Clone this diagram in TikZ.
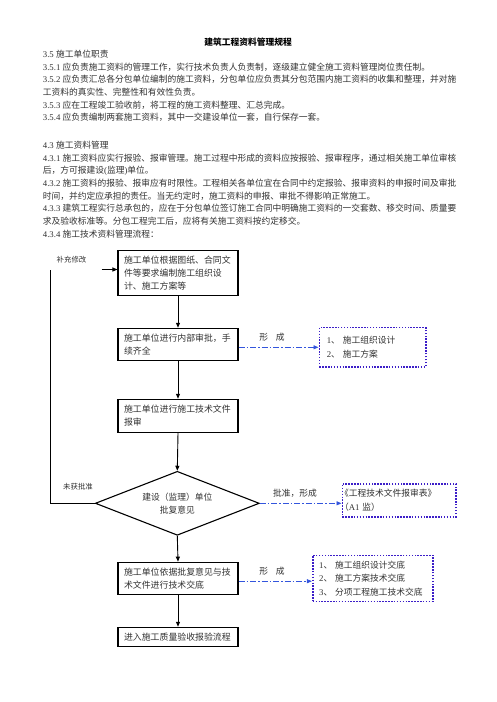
\documentclass[tikz,border=0pt]{standalone}
\usepackage{fontspec}
\setmainfont{Noto Sans CJK SC}
\newfontfamily\lat{Liberation Serif}
\usetikzlibrary{arrows.meta,shapes.geometric}
\definecolor{lineblue}{RGB}{51,85,221}
\definecolor{dotviolet}{RGB}{60,30,200}
\definecolor{ink}{RGB}{50,50,50}
\newcommand\fs{\fontsize{8.75pt}{12.7pt}\selectfont}
\newcommand\fbx{\fontsize{8.9pt}{12.8pt}\selectfont}
\newcommand\fdb{\fontsize{8.75pt}{13.5pt}\selectfont}
\newcommand\fsm{\fontsize{7.4pt}{9pt}\selectfont}
\begin{document}
\begin{tikzpicture}[x=1pt,y=-1pt,
  txt/.style={anchor=base west, inner sep=0pt, font=\fs, text=ink},
  ttl/.style={anchor=base, inner sep=0pt, font=\fs\bfseries, text=black},
  lbl/.style={inner sep=0pt, font=\fs, text=ink},
  slbl/.style={inner sep=0pt, font=\fsm, text=ink},
  box/.style={draw=black, line width=1.1pt, rectangle, minimum width=120pt,
    inner xsep=6pt, inner ysep=0pt, text width=108pt, align=left, font=\fbx, text=ink},
  diam/.style={draw=black, line width=1.1pt, shape=diamond, aspect=2.56,
    minimum width=164pt, minimum height=64pt, inner sep=0pt, align=center, font=\fs, text=ink},
  dbx/.style={draw=dotviolet, line width=1.6pt, dash pattern=on 1.5pt off 1.4pt,
    rectangle, align=left, font=\fdb, inner ysep=0pt, text=ink},
  arr/.style={draw=black, line width=0.9pt, -{Triangle[length=5pt,width=4pt]}},
  plain/.style={draw=black, line width=0.9pt},
  barr/.style={draw=lineblue, line width=0.9pt, dash pattern=on 6pt off 2pt on 1.5pt off 2pt,
    -{Triangle[length=5pt,width=4pt]}}
]
\useasboundingbox (0,0) rectangle (496,702);
\fill[white] (0,0) rectangle (496,702);

% ---- text ----
\node[ttl] (title) at (248,45.6) {建筑工程资料管理规程};
\node[txt] (t1) at (42.7,57.6) {{\lat 3.5 }施工单位职责};
\node[txt] (t2) at (42.7,70.3) {{\lat 3.5.1 }应负责施工资料的管理工作，实行技术负责人负责制，逐级建立健全施工资料管理岗位责任制。};
\node[txt] (t3) at (42.7,82.9) {{\lat 3.5.2 }应负责汇总各分包单位编制的施工资料，分包单位应负责其分包范围内施工资料的收集和整理，并对施};
\node[txt] (t4) at (42.7,95.5) {工资料的真实性、完整性和有效性负责。};
\node[txt] (t5) at (42.7,108.1) {{\lat 3.5.3 }应在工程竣工验收前，将工程的施工资料整理、汇总完成。};
\node[txt] (t6) at (42.7,120.7) {{\lat 3.5.4 }应负责编制两套施工资料，其中一交建设单位一套，自行保存一套。};
\node[txt] (t7) at (42.7,148.3) {{\lat 4.3 }施工资料管理};
\node[txt] (t8) at (42.7,161.0) {{\lat 4.3.1 }施工资料应实行报验、报审管理。施工过程中形成的资料应按报验、报审程序，通过相关施工单位审核};
\node[txt] (t9) at (42.7,173.7) {后，方可报建设{\lat (}监理{\lat )}单位。};
\node[txt] (t10) at (42.7,186.4) {{\lat 4.3.2 }施工资料的报验、报审应有时限性。工程相关各单位宜在合同中约定报验、报审资料的申报时间及审批};
\node[txt] (t11) at (42.7,199.1) {时间，并约定应承担的责任。当无约定时，施工资料的申报、审批不得影响正常施工。};
\node[txt] (t12) at (42.7,211.8) {{\lat 4.3.3 }建筑工程实行总承包的，应在于分包单位签订施工合同中明确施工资料的一交套数、移交时间、质量要};
\node[txt] (t13) at (42.7,224.5) {求及验收标准等。分包工程完工后，应将有关施工资料按约定移交。};
\node[txt] (t14) at (42.7,237.2) {{\lat 4.3.4 }施工技术资料管理流程：};

% ---- flow boxes ----
\node[box, minimum height=45pt] (b1) at (178,272.8) {施工单位根据图纸、合同文\\件等要求编制施工组织设\\计、施工方案等};
\node[box, minimum height=32pt] (b2) at (178,344.3) {施工单位进行内部审批，手\\续齐全};
\node[box, minimum height=33pt] (b3) at (178,415.8) {施工单位进行施工技术文件\\报审};
\node[diam] (dm) at (177.3,503.3) {建设（监理）单位\\批复意见};
\node[box, minimum height=32pt] (b4) at (178,578.2) {施工单位依据批复意见与技\\术文件进行技术交底};
\node[box, minimum height=19pt] (b5) at (178,636.8) {进入施工质量验收报验流程};

% ---- dotted boxes ----
\node[dbx, minimum width=106.4pt, minimum height=39.3pt, inner xsep=7.5pt, text width=91.4pt] (d1) at (372.5,347.3)
  {{\lat 1}、 施工组织设计\\{\lat 2}、 施工方案};
\node[dbx, minimum width=113.4pt, minimum height=33pt, inner xsep=-2.3pt, text width=118pt] (d2) at (399,500.2)
  {《工程技术文件报审表》\\（{\lat A1 }监）};
\node[dbx, minimum width=120pt, minimum height=46pt, inner xsep=6.5pt, text width=107pt] (d3) at (372.7,578.3)
  {{\lat 1}、 施工组织设计交底\\{\lat 2}、 施工方案技术交底\\{\lat 3}、 分项工程施工技术交底};

% ---- main arrows ----
\draw[arr] (b1.south) -- (b2.north);
\draw[arr] (b2.south) -- (b3.north);
\draw[arr] (b3.south) -- (dm.north);
\draw[arr] (dm.south) -- (b4.north);
\draw[arr] (b4.south) -- (b5.north);

% ---- loop back ----
\coordinate (lc1) at (50.7,503.3);
\coordinate (lc2) at (50.7,269.5);
\coordinate (lg) at (101.7,269.5);
\draw[plain] (dm.west) -- (lc1) -- (lc2);
\draw[arr] (lg) -- (lg -| b1.west);
\node[slbl] (lab1) at (71.5,260) {补充修改};
\node[slbl] (lab2) at (78,486.7) {未获批准};

% ---- blue arrows ----
\draw[barr] (b2.east |- d1.west) -- (d1.west);
\draw[barr] (dm.east) -- (dm.east -| d2.west);
\coordinate (b4r) at ([yshift=-3pt]b4.east);
\draw[barr] (b4r) -- (b4r -| d3.west);
\node[lbl] (f1) at (272,337) {形\hspace{8pt}成};
\node[lbl] (f2) at (295,493) {批准，形成};
\node[lbl] (f3) at (272,571) {形\hspace{8pt}成};
\end{tikzpicture}
\end{document}
